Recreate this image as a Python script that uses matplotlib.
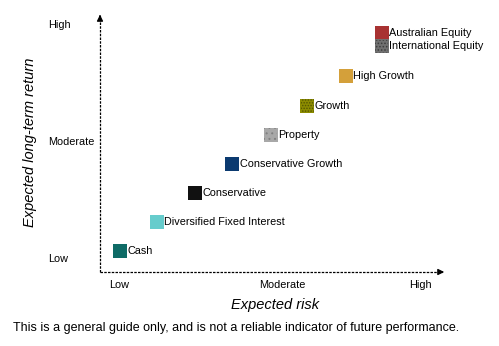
import numpy as np
import matplotlib.pyplot as plt

plt.rcParams['font.family'] = ['Liberation Sans', 'DejaVu Sans']
plt.rcParams['hatch.linewidth'] = 0.7

funds = ['Cash', 'Diversified Fixed Interest', 'Conservative', 'Conservative Growth',
         'Property', 'Growth', 'High Growth', 'Australian Equity', 'International Equity']
risk = [0.52, 1.51, 2.52, 3.53, 4.55, 5.53, 6.55, 7.51, 7.51]
ret = [0.74, 1.74, 2.74, 3.74, 4.74, 5.74, 6.76, 8.24, 7.79]
colors = ['#0e6b66', '#66cccc', '#111111', '#0b3a70', '#a8a8a8',
          '#8c8c00', '#d4a03a', '#a83232', '#707070']
hatches = [None, None, None, None, '...', '......', None, None, '.....']
hatch_colors = [None, None, None, None, '#808080', '#555500', None, None, '#3c3c3c']

x_ticks = [0.51, 4.85, 8.53]
y_ticks = [0.45, 4.48, 8.52]
levels = ['Low', 'Moderate', 'High']

fig = plt.figure(figsize=(4.99, 3.46), dpi=100)
ax = fig.add_axes([100/499, 74/346, 347/499, 260/346])
ax.set_xlim(0, 9.25)
ax.set_ylim(0, 8.97)

for x, y, c, h, hc, name in zip(risk, ret, colors, hatches, hatch_colors, funds):
    ax.scatter([x], [y], s=88, marker='s', color=c, linewidths=0, zorder=3)
    if h:
        ax.scatter([x], [y], s=88, marker='s', facecolors='none', edgecolors=hc,
                   hatch=h, linewidths=0, zorder=4)
    ax.text(x + 0.2, y, name, fontsize=7.8, va='center', ha='left')

for s in ax.spines.values():
    s.set_visible(False)
ax.set_xticks([])
ax.set_yticks([])

# dashed axes with arrow heads
ax.plot([0, 0], [0, 0.985], transform=ax.transAxes, color='black',
        lw=0.9, ls=(0, (2, 1)), clip_on=False)
ax.plot([0, 0.985], [0, 0], transform=ax.transAxes, color='black',
        lw=0.9, ls=(0, (2, 1)), clip_on=False)
ax.annotate('', xy=(0, 1.0), xytext=(0, 0.97), xycoords='axes fraction',
            arrowprops=dict(arrowstyle='-|>', color='black', lw=0.9,
                            mutation_scale=9))
ax.annotate('', xy=(1.0, 0), xytext=(0.975, 0), xycoords='axes fraction',
            arrowprops=dict(arrowstyle='-|>', color='black', lw=0.9,
                            mutation_scale=9))

for x, lab in zip(x_ticks, levels):
    ax.text(x, -0.45, lab, fontsize=7.8, ha='center', va='center')
for y, lab in zip(y_ticks, levels):
    ax.text(-1.39, y, lab, fontsize=7.8, ha='left', va='center')

ax.text(4.67, -1.15, 'Expected risk', fontsize=10.5, style='italic',
        ha='center', va='center')
ax.text(-1.87, 4.48, 'Expected long-term return', fontsize=10.5, style='italic',
        ha='center', va='center', rotation=90)
fig.text(13/499, 1 - 328/346, 'This is a general guide only, and is not a reliable '
         'indicator of future performance.', fontsize=9, ha='left', va='center')

fig.savefig('out.png', dpi=100)
